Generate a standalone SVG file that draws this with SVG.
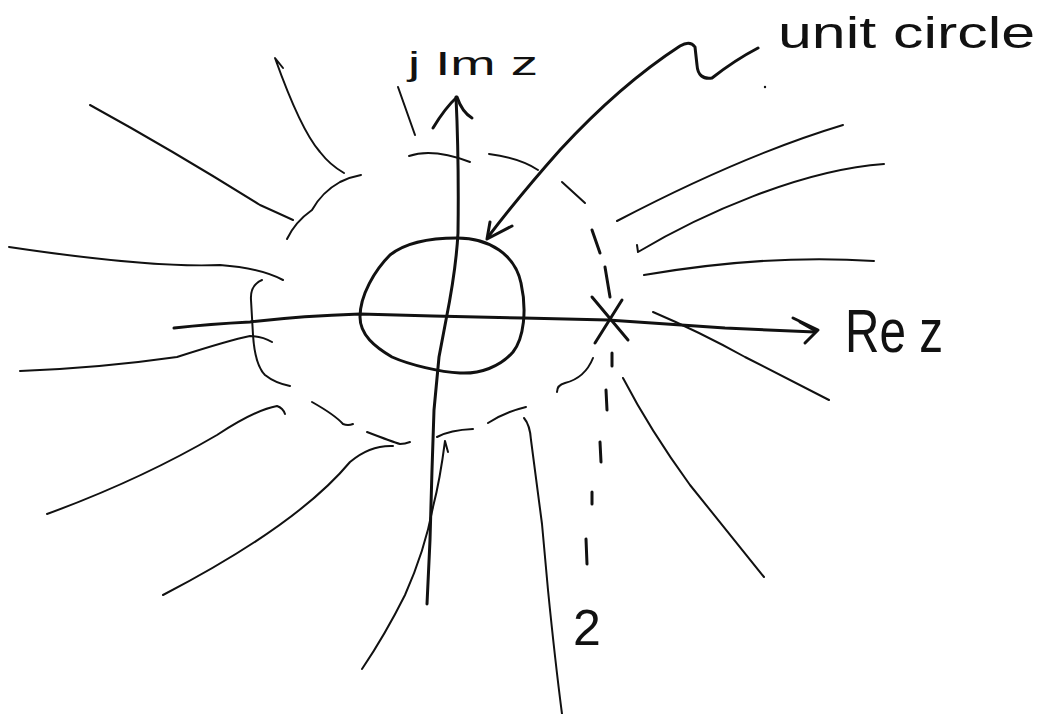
<svg xmlns="http://www.w3.org/2000/svg" width="1050" height="714" viewBox="0 0 1050 714">
<style>
.ink{fill:none;stroke:#111;stroke-linecap:round;stroke-linejoin:round}
.thick{stroke-width:3}
.thin{stroke-width:2}
.lbl{fill:#111;font-family:"Liberation Sans",Arial,sans-serif}
</style>
<rect width="1050" height="714" fill="#fff"/>
<g id="field-lines" class="ink thin">
<path d="M90,105 C150,138 220,180 260,205 Q280,214 293,220"/>
<path d="M283,68 L275,58 C290,100 305,135 320,152 Q330,165 344,173"/>
<path d="M398,87 L415,135"/>
<path d="M9,247 Q150,268 220,265 Q260,268 283,280"/>
<path d="M20,371 Q100,368 177,357 Q230,340 250,336 Q262,336 272,342"/>
<path d="M47,514 Q140,480 217,435 Q255,410 277,406 Q283,408 285,414"/>
<path d="M163,595 C240,555 310,510 350,462 Q370,445 393,446"/>
<path d="M524,418 Q530,425 531,440 L542,524 L548,590 Q555,660 562,714"/>
<path d="M448,452 L445,441 Q440,480 433,507 Q425,550 405,595 Q385,635 362,669"/>
<path d="M617,221 C680,188 760,150 843,125"/>
<path d="M637,245 L638,252 C700,215 800,170 884,164"/>
<path d="M644,275 C720,262 800,256 874,261"/>
<path d="M653,312 Q700,332 745,357 L829,400"/>
<path d="M623,378 Q650,430 690,485 L764,577"/>
</g>
<g id="dashed-circle" class="ink thin">
<path d="M287,239 Q295,222 312,210 Q322,192 340,182 Q350,177 361,175"/>
<path d="M409,156 Q433,148 470,162"/>
<path d="M489,154 Q520,158 538,170"/>
<path d="M262,280 Q250,285 251,300 L253,335 Q255,365 265,375 Q275,383 290,386"/>
<path d="M312,402 Q335,415 343,424 Q348,426 353,424"/>
<path d="M367,432 Q393,442 400,444 Q405,444 410,442"/>
<path d="M437,437 Q450,430 473,429"/>
<path d="M488,423 Q505,412 526,407"/>
<path d="M593,358 Q585,378 565,383 Q557,385 557,392"/>
<path d="M562,182 L585,203"/>
<path d="M592,230 L600,253" class="thick"/>
<path d="M605,267 L610,297" class="thick"/>
<path d="M612,353 L612,366" class="thick"/>
<path d="M606,390 L607,410" class="thick"/>
<path d="M600,442 L601,462" class="thick"/>
<path d="M592,492 L592,504" class="thick"/>
<path d="M586,539 L587,564" class="thick"/>
</g>
<g id="axes" class="ink thick">
<path d="M456,97 Q459,160 458,233 Q456,270 446,320 L439,357 L434,410 L432,470 L430,540 L427,604"/>
<path d="M433,128 Q445,108 457,97 Q462,112 472,118"/>
<path d="M174,328 Q210,324 250,322 Q300,316 360,314 L433,316 L523,318 L608,320 L725,328 L815,332"/>
<path d="M793,318 L818,330 L805,343 M800,322 L814,330"/>
</g>
<g id="unit-circle" class="ink thick">
<path d="M457,238 C490,238 515,255 521,283 C527,310 524,338 513,352 C500,367 480,374 460,373 C440,372 410,365 392,357 C375,347 360,335 360,317 C360,295 375,270 390,255 C405,243 430,238 457,238 Z"/>
</g>
<g id="pole" class="ink thick">
<path d="M592,297 L628,340"/>
<path d="M622,300 L595,343"/>
</g>
<g id="unit-circle-label">
<path class="ink thick" d="M758,48 Q735,60 712,78 Q698,80 697,65 L695,47 Q690,40 680,46 Q620,85 560,150 Q520,195 488,237"/>
<path class="ink thick" d="M490,222 L487,239 L512,226"/>
<circle cx="765" cy="87" r="1.2" fill="#111"/>
<text class="lbl" x="778" y="48" font-size="44" textLength="257" lengthAdjust="spacingAndGlyphs">unit circle</text>
</g>
<g id="labels">
<text class="lbl" x="408" y="75" font-size="33" textLength="130" lengthAdjust="spacingAndGlyphs">j Im z</text>
<text class="lbl" x="845" y="352" font-size="62" textLength="98" lengthAdjust="spacingAndGlyphs">Re z</text>
<text class="lbl" x="573" y="645" font-size="50">2</text>
</g>
</svg>
